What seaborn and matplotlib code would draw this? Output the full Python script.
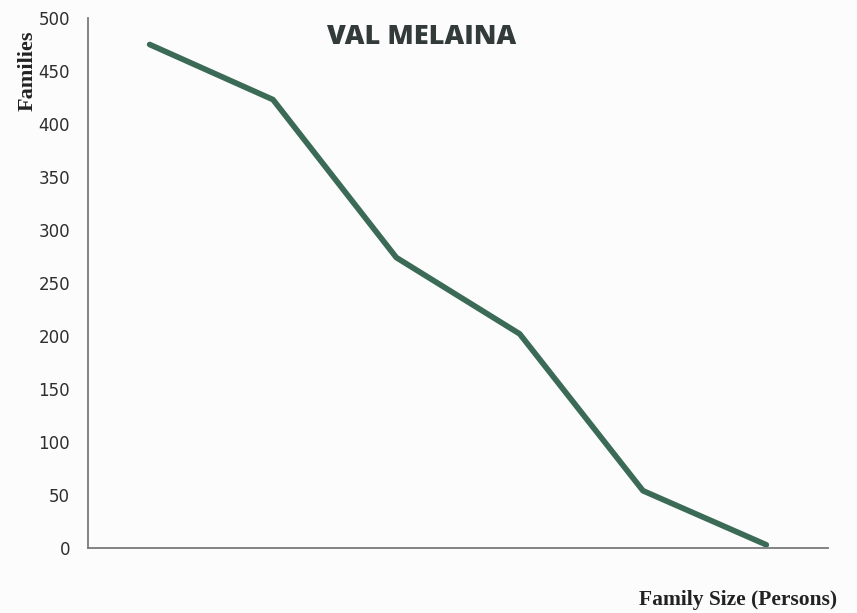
import numpy as np
import pandas as pd
import matplotlib.pyplot as plt
import seaborn as sns

# family size categories (no tick labels shown on the x axis)
family_size = [1, 2, 3, 4, 5, 6]
families = [475, 423, 274, 202, 54, 3]

df = pd.DataFrame({'pos': np.arange(len(family_size)), 'families': families})

sns.set_style('white')
plt.rcParams['font.family'] = ['DejaVu Sans']

fig = plt.figure(figsize=(8.57, 6.13), dpi=100, facecolor='#fcfcfd')
ax = fig.add_axes([88/857, 65/613, 740/857, 530/613])
ax.set_facecolor('#fcfcfd')

sns.lineplot(data=df, x='pos', y='families', ax=ax, color='#3b6b57',
             linewidth=4.1, solid_capstyle='round', solid_joinstyle='round')

ax.set_xlim(-0.5, len(family_size) - 0.5)
ax.set_ylim(0, 500)
ax.set_yticks(np.arange(0, 501, 50))
ax.set_xticks([])
ax.tick_params(axis='y', length=0, pad=13, labelsize=12, labelcolor='#2e2e2e')
ax.set_xlabel('')
ax.set_ylabel('')

sns.despine(ax=ax)
for s in ['left', 'bottom']:
    ax.spines[s].set_color('#7a7a7a')
    ax.spines[s].set_linewidth(1.3)

ax.text(0.451, 0.964, 'VAL MELAINA', transform=ax.transAxes, ha='center', va='center',
        fontsize=19.5, fontweight='heavy', color='#333a3a', family='Open Sans')

fig.text(28/857, 1 - 71/613, 'Families', rotation=90, ha='center', va='center',
         fontsize=16, fontweight='bold', family='Liberation Serif', color='#222222')
fig.text(837/857, 1 - 600/613, 'Family Size (Persons)', ha='right', va='center',
         fontsize=15.5, fontweight='bold', family='Liberation Serif', color='#222222')

fig.savefig('out.png', dpi=100, facecolor=fig.get_facecolor())
